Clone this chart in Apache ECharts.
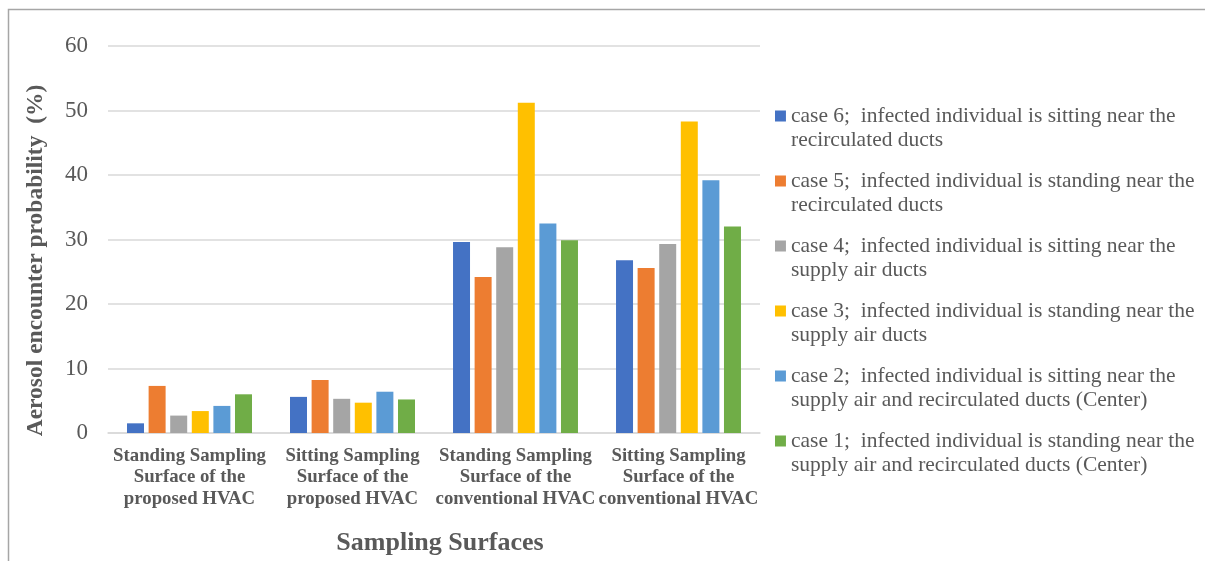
<!DOCTYPE html>
<html>
<head>
<meta charset="utf-8">
<script src="https://cdn.jsdelivr.net/npm/echarts@6/dist/echarts.min.js"></script>
<style>
  html, body { margin: 0; padding: 0; background: #fff; }
  #chart { width: 1205px; height: 561px; }
</style>
</head>
<body>
<div id="chart"></div>
<script>
// Sampling surfaces (x categories)
const categories = [
  'Standing Sampling\nSurface of the\nproposed HVAC',
  'Sitting Sampling\nSurface of the\nproposed HVAC',
  'Standing Sampling\nSurface of the\nconventional HVAC',
  'Sitting Sampling\nSurface of the\nconventional HVAC'
];

// Case descriptions, two lines each as shown in the legend
const caseNames = [
  ['case 6;  infected individual is sitting near the', 'recirculated ducts'],
  ['case 5;  infected individual is standing near the', 'recirculated ducts'],
  ['case 4;  infected individual is sitting near the', 'supply air ducts'],
  ['case 3;  infected individual is standing near the', 'supply air ducts'],
  ['case 2;  infected individual is sitting near the', 'supply air and recirculated ducts (Center)'],
  ['case 1;  infected individual is standing near the', 'supply air and recirculated ducts (Center)']
];

// Aerosol encounter probability (%) per case, one value per surface
const case6 = [1.5, 5.6, 29.6, 26.8];
const case5 = [7.3, 8.2, 24.2, 25.6];
const case4 = [2.7, 5.3, 28.8, 29.3];
const case3 = [3.4, 4.7, 51.2, 48.3];
const case2 = [4.2, 6.4, 32.5, 39.2];
const case1 = [6.0, 5.2, 29.9, 32.0];

const seriesValues = [case6, case5, case4, case3, case2, case1];
const colors = ['#4472C4', '#ED7D31', '#A5A5A5', '#FFC000', '#5B9BD5', '#70AD47'];

const FONT = 'Liberation Serif, Times New Roman, serif';
const TEXT = '#595959';

const fullName = (parts) => parts.join(' ');
const lineBreaks = {};
caseNames.forEach(p => { lineBreaks[fullName(p)] = p.join('\n'); });

// Legend key: a square at the top of a tall box so it sits beside the first text line
const legendKey = 'path://M0,0H10V10H0Z M0,31.99H0.01V32H0Z';

const chart = echarts.init(document.getElementById('chart'), null, { renderer: 'canvas' });

chart.setOption({
  animation: false,
  backgroundColor: '#ffffff',
  color: colors,
  textStyle: { fontFamily: FONT },
  graphic: [{
    type: 'rect',
    shape: { x: 8.5, y: 9.5, width: 1400, height: 700 },
    style: { fill: 'none', stroke: '#a6a6a6', lineWidth: 1.5 },
    silent: true
  }],
  grid: { left: 108, right: 445, top: 46, bottom: 128 },
  legend: {
    orient: 'vertical',
    left: 775,
    top: 104,
    padding: 0,
    itemGap: 17,
    itemWidth: 11,
    itemHeight: 35,
    icon: legendKey,
    formatter: (name) => lineBreaks[name] || name,
    textStyle: {
      fontFamily: FONT,
      fontSize: 21.5,
      color: TEXT,
      lineHeight: 24
    },
    data: caseNames.map(fullName)
  },
  xAxis: {
    type: 'category',
    data: categories,
    name: 'Sampling Surfaces',
    nameLocation: 'middle',
    nameGap: 97,
    nameTextStyle: {
      fontFamily: FONT, fontSize: 26, fontWeight: 'bold', color: TEXT,
      padding: [0, 0, 0, 12]
    },
    axisLine: { lineStyle: { color: '#d9d9d9', width: 1.5 } },
    axisTick: { show: false },
    axisLabel: {
      interval: 0,
      margin: 12,
      fontFamily: FONT,
      fontSize: 18.8,
      fontWeight: 'bold',
      lineHeight: 21.5,
      color: TEXT
    }
  },
  yAxis: {
    type: 'value',
    min: 0,
    max: 60,
    interval: 10,
    name: 'Aerosol encounter probability  (%)',
    nameLocation: 'middle',
    nameGap: 60,
    nameTextStyle: {
      fontFamily: FONT, fontSize: 23.5, fontWeight: 'bold', color: TEXT,
      padding: [0, 42, 0, 0]
    },
    axisLine: { show: false },
    axisTick: { show: false },
    axisLabel: { fontFamily: FONT, fontSize: 23, color: TEXT, margin: 20 },
    splitLine: { lineStyle: { color: '#d9d9d9', width: 1.5 } }
  },
  series: seriesValues.map((vals, i) => ({
    type: 'bar',
    name: fullName(caseNames[i]),
    data: vals,
    barWidth: 17,
    barGap: '27%',
    itemStyle: { color: colors[i] }
  }))
});
</script>
</body>
</html>
